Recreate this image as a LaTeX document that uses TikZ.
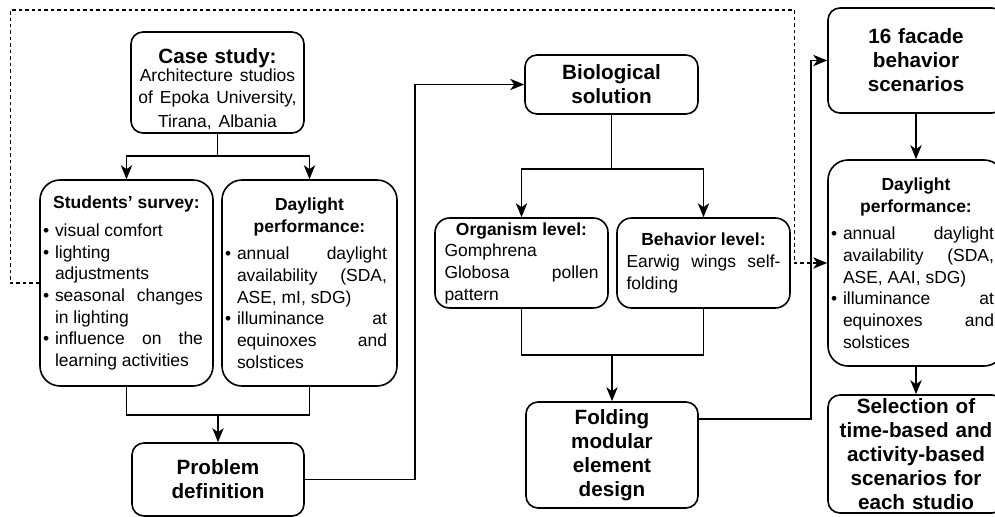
\documentclass[tikz,border=0pt]{standalone}
\usepackage{fontspec}
\setmainfont{Liberation Sans}
\usetikzlibrary{arrows.meta}

\hyphenpenalty=10000
\tolerance=10000

\newcommand{\bigtext}{\fontsize{15.5pt}{18pt}\selectfont\bfseries}
\newcommand{\midtext}{\fontsize{13.1pt}{16.25pt}\selectfont}
\newenvironment{dotlist}{\setlength{\linewidth}{\hsize}%
  \begin{list}{\textbullet}{\setlength{\leftmargin}{9pt}\setlength{\rightmargin}{5.25pt}%
    \setlength{\labelsep}{3.75pt}\setlength{\labelwidth}{5.25pt}%
    \setlength{\itemsep}{0pt}\setlength{\parsep}{0pt}\setlength{\topsep}{0pt}\setlength{\partopsep}{0pt}%
    \def\makelabel##1{##1\hfil}}}{\end{list}}

\begin{document}
\begin{tikzpicture}[x=0.75pt,y=0.75pt,yscale=-1,xscale=1,
  box/.style={draw, line width=1.2pt, rounded corners=9pt, inner sep=0pt, text width=124pt, align=center, font=\bigtext},
  listbox/.style={draw, line width=1.2pt, rounded corners=15pt, inner xsep=2.25pt, inner ysep=0pt, align=justify, font=\midtext},
  levelbox/.style={draw, line width=1.2pt, rounded corners=11pt, inner sep=0pt, text width=115.5pt, align=justify, font=\midtext},
  link/.style={line width=1.2pt},
  arr/.style={line width=1.2pt, -{Stealth[length=10.5pt,width=8.5pt,inset=3pt]}},
  dashlink/.style={line width=1pt, dash pattern=on 2.6pt off 2.25pt, -{Stealth[length=10.5pt,width=8.5pt,inset=3pt]}}]
\useasboundingbox (0,0) rectangle (995,517);

%Case study
\node[box, minimum width=129.75pt, minimum height=75.75pt] (casestudy) at (217.5,82.5) {\rule{0pt}{21pt}Case study:\par\vspace{-3pt}\midtext\mdseries Architecture studios\\of Epoka University,\\Tirana, Albania};
%Students' survey
\node[listbox, minimum width=129.75pt, minimum height=154.5pt, text width=125.25pt] (survey) at (126.5,283) {{\centering\bfseries Students' survey:\par}\vspace{4.5pt}
\begin{dotlist}
\item visual comfort
\item lighting adjustments
\item seasonal changes in lighting
\item influence on the learning activities
\end{dotlist}};
%Daylight performance (left)
\node[listbox, minimum width=131.25pt, minimum height=154.5pt, text width=126.75pt] (daylightA) at (309.5,283) {{\centering\bfseries Daylight\\performance:\par}\vspace{4.5pt}
\begin{dotlist}
\item annual daylight availability (SDA, ASE, mI, sDG)
\item illuminance at equinoxes and solstices
\end{dotlist}};
%Problem definition
\node[box, minimum width=129pt, minimum height=54.75pt] (problem) at (218,479.5) {Problem\\definition};

%Biological solution
\node[box, minimum width=129.75pt, minimum height=44.25pt] (bio) at (611.5,84.5) {Biological\\solution};
%Organism level
\node[levelbox, minimum width=129.75pt, minimum height=67.5pt] (organism) at (521.5,263) {{\centering\bfseries Organism level:\par}Gomphrena Globosa pollen pattern};
%Behavior level
\node[levelbox, minimum width=129.75pt, minimum height=67.5pt] (behavior) at (703.5,263) {{\centering\bfseries Behavior level:\par}Earwig wings self-folding};
%Folding modular element design
\node[box, minimum width=129pt, minimum height=79.5pt] (folding) at (612,455) {Folding\\modular\\element\\design};

%16 facade behavior scenarios
\node[box, minimum width=132pt, minimum height=78.75pt] (facade) at (916,60.5) {16 facade\\behavior\\scenarios};
%Daylight performance (right)
\node[listbox, minimum width=132pt, minimum height=154.5pt, text width=127.5pt] (daylightB) at (916,263) {{\centering\bfseries Daylight\\performance:\par}\vspace{4.5pt}
\begin{dotlist}
\item annual daylight availability (SDA, ASE, AAI, sDG)
\item illuminance at equinoxes and solstices
\end{dotlist}};
%Selection of scenarios
\node[box, minimum width=132pt, minimum height=88.5pt] (selection) at (916,454) {Selection of\\time-based and\\activity-based\\scenarios for\\each studio};

%Connectors
\draw[arr] (casestudy.south) -- ++(0,22) -| (survey.north);
\draw[arr] (casestudy.south) -- ++(0,22) -| (daylightA.north);
\draw[link] (survey.south) -- ++(0,28) -| (daylightA.south);
\draw[arr] (problem.north |- survey.south) ++(0,28) -- (problem.north);
\draw[arr] (problem.east) -- ++(110,0) |- (bio.west);
\draw[arr] (bio.south) -- ++(0,54) -| (organism.north);
\draw[arr] (bio.south) -- ++(0,54) -| (behavior.north);
\draw[link] (organism.south) -- ++(0,46) -| (behavior.south);
\draw[arr] (folding.north |- organism.south) ++(0,46) -- (folding.north);
\draw[arr] (folding.east) ++(0,-36) -- ++(112,0) |- (facade.west);
\draw[arr] (facade.south) -- (daylightB.north);
\draw[arr] (daylightB.south) -- (selection.north);
%Dashed feedback
\draw[dashlink] (survey.west) -- ++(-29,0) -- ++(0,-273) -- ++(784,0) |- (daylightB.west);

\end{tikzpicture}
\end{document}
